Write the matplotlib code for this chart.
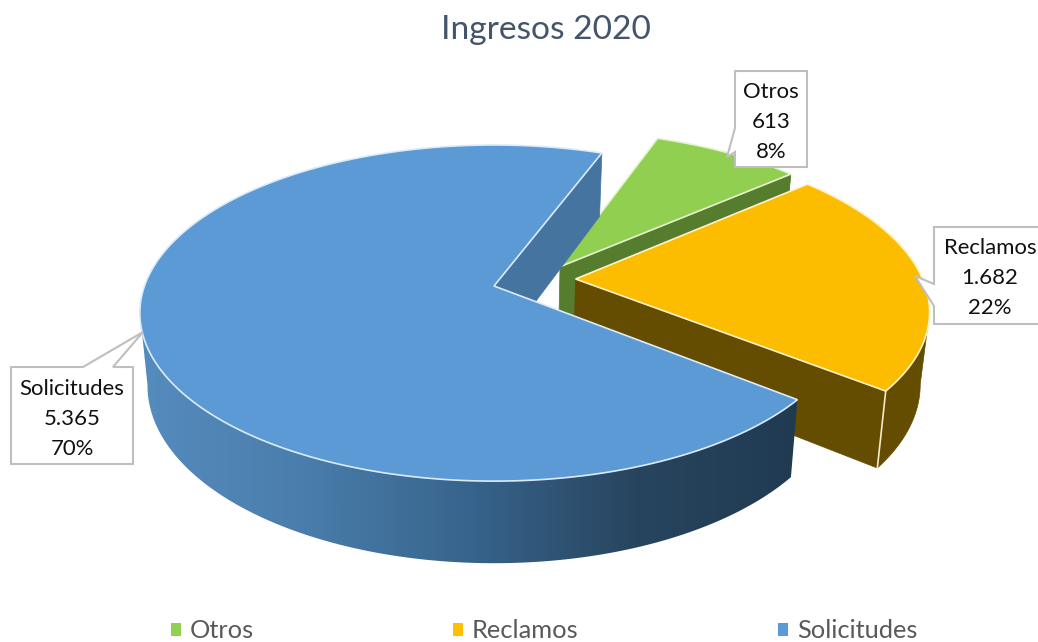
import numpy as np
import matplotlib
matplotlib.use("Agg")
import matplotlib.pyplot as plt
from matplotlib.colors import LinearSegmentedColormap
from matplotlib.patches import Patch, Polygon

# ---- data ----
categories = ["Otros", "Reclamos", "Solicitudes"]
values = [613, 1682, 5365]
title = "Ingresos 2020"

# ---- styles ----
face_colors = ["#91CF50", "#FCBC00", "#5B9AD5"]
wall_colors = ["#567C2E", "#644C00", "#44749F"]
legend_colors = ["#92D050", "#FFC000", "#5B9BD5"]
edge_colors = ["#E4F3D2", "#FFF2C8", "#DCEBF8"]
blue_wall = LinearSegmentedColormap.from_list(
    "blue_wall", ["#558CBE", "#4A7DAB", "#37648C", "#28455F", "#203A52"])

# ---- projection of the pie planes onto the pixel canvas ----
W, H = 1038, 642
K = 0.161
CX = 494
TOP = dict(a=349.5, b=163.7, cy=286)
BOT = dict(a=342, b=173, cy=357)
START_DEG = 20.8
EXPLODE = [(0.1925, -0.12), (0.235, -0.043), (0.0, 0.0)]


def project(u, v, plane):
    s = 1 / (1 - K * v)
    return CX + plane["a"] * u * s, plane["cy"] + plane["b"] * v * s


plt.rcParams["font.family"] = ["Lato", "DejaVu Sans"]
fig = plt.figure(figsize=(W / 100, H / 100), dpi=100, facecolor="white")
ax = fig.add_axes([0, 0, 1, 1])
ax.set_xlim(0, W)
ax.set_ylim(H, 0)
ax.axis("off")

total = sum(values)
angle = START_DEG
z = 1
for i, val in enumerate(values):
    sweep = 360 * val / total
    deg = np.linspace(angle, angle + sweep, int(sweep * 2) + 2)
    th = np.radians(deg)
    ou, ov = EXPLODE[i]
    u = ou + np.sin(th)
    v = ov - np.cos(th)
    tx, ty = project(u, v, TOP)
    bx, by = project(u, v, BOT)
    ax0, ay0 = project(ou, ov, TOP)
    bx0, by0 = project(ou, ov, BOT)

    # outer wall: from the silhouette tangent to the front end of the arc
    if i == 2:
        sel = np.arange(0, np.argmin(tx) + 1)
    else:
        sel = np.arange(np.argmax(tx), len(tx))
    band = np.c_[np.r_[tx[sel], bx[sel][::-1]], np.r_[ty[sel], by[sel][::-1]]]
    if i == 2:
        clip = Polygon(band, closed=True, transform=ax.transData, facecolor="none", edgecolor="none")
        ax.add_patch(clip)
        im = ax.imshow(np.linspace(0, 1, 256)[None, :], cmap=blue_wall, aspect="auto",
                       extent=(140, 800, 570, 300), interpolation="bilinear", zorder=z)
        im.set_clip_path(clip)
        ax.set_xlim(0, W)
        ax.set_ylim(H, 0)
    else:
        ax.add_patch(Polygon(band, closed=True, facecolor=wall_colors[i],
                             edgecolor=wall_colors[i], lw=0.5, zorder=z))
    z += 1
    # radial wall at the clockwise end of the slice
    ax.fill([ax0, tx[-1], bx[-1], bx0], [ay0, ty[-1], by[-1], by0],
            facecolor=wall_colors[i], edgecolor=wall_colors[i], lw=0.5, zorder=z)
    z += 1
    if i == 1:
        ax.plot([tx[-1], bx[-1]], [ty[-1], by[-1]], color="#F5EBCF", lw=1.2, zorder=z)
        z += 1
    # top face
    ax.fill(np.r_[ax0, tx], np.r_[ay0, ty], facecolor=face_colors[i],
            edgecolor=edge_colors[i], lw=1.2, joinstyle="miter", zorder=z)
    z += 1
    angle += sweep

# ---- callouts ----
BOX_EDGE = "#BFBFBF"
callouts = [
    dict(pts=[(735, 71), (807, 71), (807, 167), (735, 167), (735, 152), (727, 157), (735, 128)], xy=(771, 122)),
    dict(pts=[(934, 227), (1040, 227), (1040, 324), (934, 324), (934, 306), (915, 276), (934, 284)], xy=(990, 278)),
    dict(pts=[(11, 367), (83, 367), (143, 332), (113, 367), (133, 367), (133, 464), (11, 464)], xy=(72, 419)),
]
for cat, val, c in zip(categories, values, callouts):
    xs, ys = zip(*c["pts"])
    ax.fill(xs, ys, facecolor="white", edgecolor=BOX_EDGE, lw=1.5, joinstyle="miter", zorder=z)
    label = f"{cat}\n{val:,}\n{round(100 * val / total)}%".replace(",", ".")
    ax.text(c["xy"][0], c["xy"][1], label, ha="center", va="center", fontsize=15.9,
            linespacing=1.6, color="#111111", zorder=z + 1)

# ---- title ----
ax.text(546, 30, title, ha="center", va="center", fontsize=24.1, color="#44546A")

# ---- legend ----
handles = [Patch(facecolor=c, edgecolor="none") for c in legend_colors]
FS = 18.3
fpx = FS * 100 / 72
ax.legend(handles, categories, loc="center", bbox_to_anchor=(544, 631), bbox_transform=ax.transData,
          ncol=3, frameon=False, fontsize=FS, labelcolor="#595959", borderpad=0, borderaxespad=0,
          handlelength=10 / fpx, handleheight=10 / fpx, handletextpad=9 / fpx, columnspacing=199 / fpx)

fig.savefig("out.png", dpi=100, facecolor="white")
